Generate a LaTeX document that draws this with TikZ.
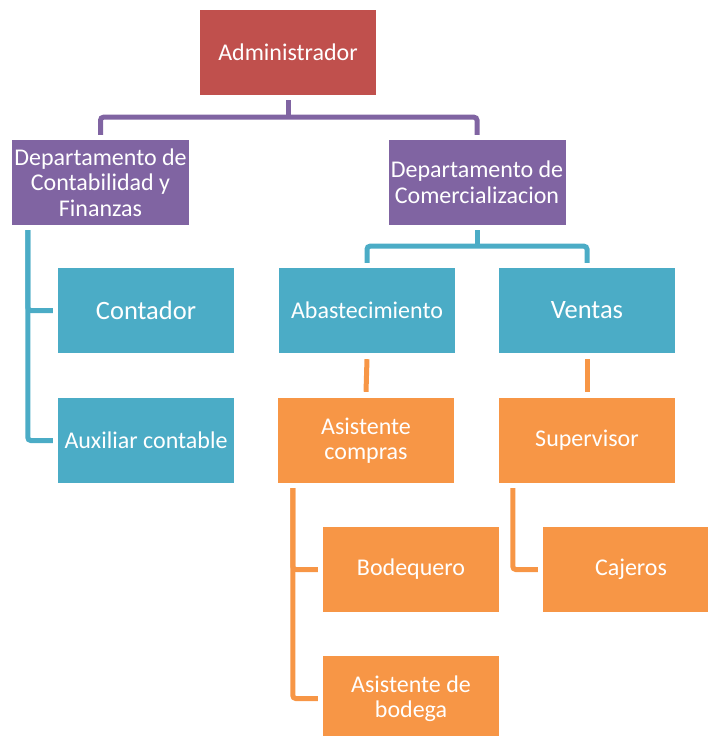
\documentclass[tikz,border=0pt]{standalone}
\usepackage{fontspec}
\setmainfont{Carlito}
\definecolor{cred}{HTML}{C0504D}
\definecolor{cpur}{HTML}{8064A2}
\definecolor{cteal}{HTML}{4BACC6}
\definecolor{corg}{HTML}{F79646}
\tikzset{
  box/.style={rectangle, inner sep=0pt, minimum width=176pt, minimum height=85pt,
    text=white, align=center, font=\fontsize{24pt}{25.5pt}\selectfont},
  bigtxt/.style={font=\fontsize{26.5pt}{28pt}\selectfont},
  con/.style={line width=5pt, rounded corners=3pt},
}
\begin{document}
\begin{tikzpicture}[x=1pt,y=-1pt]
\useasboundingbox (0,0) rectangle (708,736);
\clip (0,0) rectangle (708,736);
% nodes
\node[box, fill=cred] (admin) at (288,52.5) {Administrador};
\node[box, fill=cpur, minimum width=177pt] (dcont) at (100.5,182.5) {Departamento de\\Contabilidad y\\Finanzas};
\node[box, fill=cpur, minimum width=177pt] (dcom) at (477,182.5) {Departamento de\\Comercializacion};
\node[box, bigtxt, fill=cteal] (contador) at (146,310.5) {Contador};
\node[box, fill=cteal] (aux) at (146,440.5) {Auxiliar contable};
\node[box, fill=cteal] (abast) at (367,310.5) {Abastecimiento};
\node[box, bigtxt, fill=cteal] (ventas) at (587,310.5) {Ventas};
\node[box, fill=corg] (asist) at (366,440.5) {Asistente\\compras};
\node[box, fill=corg] (superv) at (587,440.5) {Supervisor};
\node[box, fill=corg] (bodeq) at (411,569.5) {Bodequero};
\node[box, fill=corg] (asbod) at (411,698.5) {Asistente de\\bodega};
\node[box, fill=corg] (cajeros) at (631,569.5) {Cajeros};
% purple connectors
\draw[con, cpur] ([yshift=-5pt]admin.south) -- ++(0,17) coordinate (pj);
\draw[con, cpur] ([yshift=5pt]dcont.north) |- (pj) -| ([yshift=5pt]dcom.north);
% teal connectors
\draw[con, cteal] ([xshift=16pt,yshift=-5pt]dcont.south west) |- ([xshift=-5pt]aux.west);
\draw[con, cteal] ([xshift=16pt,yshift=-5pt]dcont.south west) |- ([xshift=-5pt]contador.west);
\draw[con, cteal] ([yshift=-5pt]dcom.south) -- ++(0,16) coordinate (tj);
\draw[con, cteal] ([yshift=5pt]abast.north) |- (tj) -| ([yshift=5pt]ventas.north);
% orange connectors
\draw[con, corg] ([yshift=-6pt]abast.south) -- ([yshift=6pt]asist.north);
\draw[con, corg] ([yshift=-6pt]ventas.south) -- ([yshift=6pt]superv.north);
\draw[con, corg] ([xshift=15pt,yshift=-5pt]asist.south west) |- ([xshift=-5pt]asbod.west);
\draw[con, corg] ([xshift=15pt,yshift=-5pt]asist.south west) |- ([xshift=-5pt]bodeq.west);
\draw[con, corg] ([xshift=14pt,yshift=-5pt]superv.south west) |- ([xshift=-5pt]cajeros.west);
\end{tikzpicture}
\end{document}
